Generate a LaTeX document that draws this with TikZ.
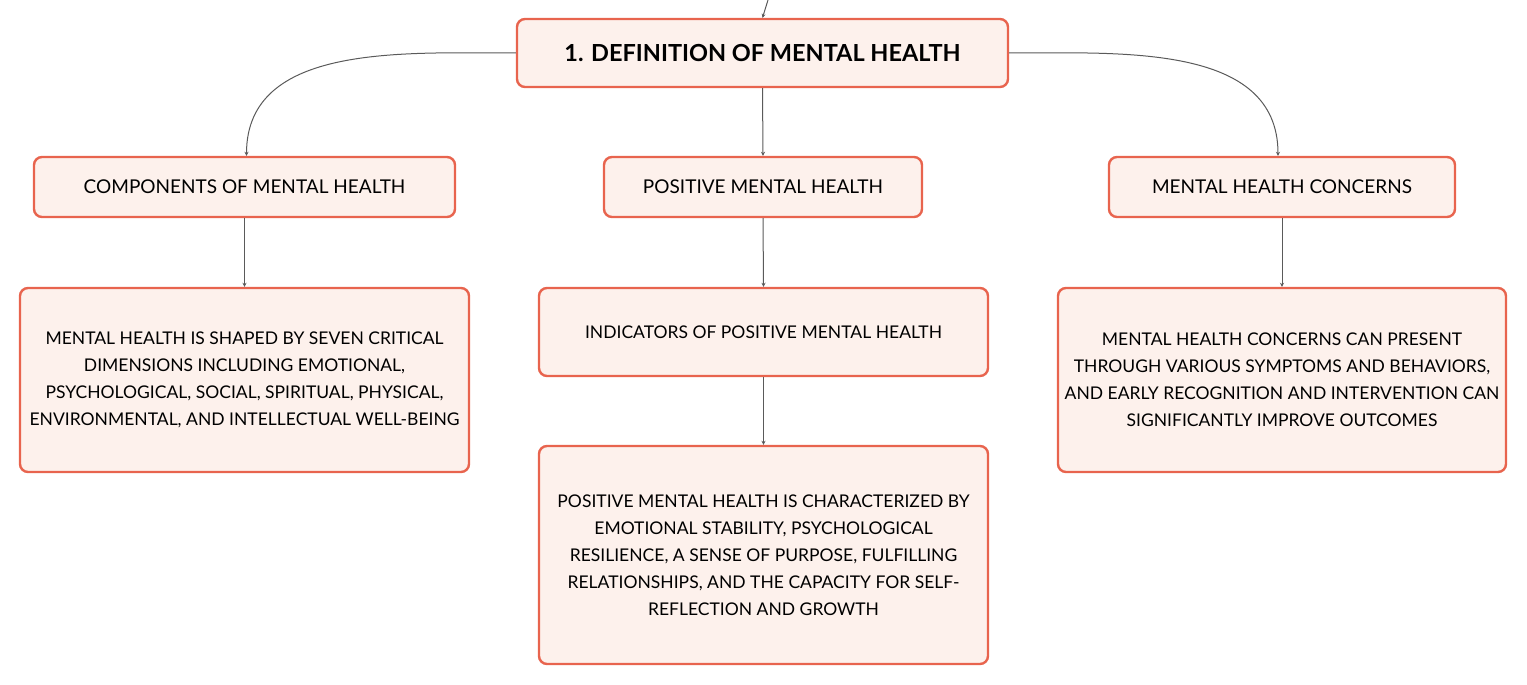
\documentclass[tikz,border=0pt]{standalone}
\usepackage{fontspec}
\setmainfont{Lato}
\usetikzlibrary{arrows.meta}
\definecolor{boxborder}{HTML}{E8644E}
\definecolor{boxfill}{HTML}{FDF1EC}
\definecolor{linkgray}{HTML}{5A5A5A}
\tikzset{
  box/.style={draw=boxborder, fill=boxfill, line width=2.4pt, rounded corners=8pt,
    align=center, inner sep=0pt, text=black},
  headbox/.style={box, font=\fontsize{19}{27}\selectfont},
  descbox/.style={box, font=\fontsize{17.5}{27}\selectfont},
  titlebox/.style={box, font=\fontsize{23.5}{27}\selectfont\bfseries},
  link/.style={draw=linkgray, line width=1pt, -{Stealth[length=4pt,width=4pt]}},
}
\begin{document}
\begin{tikzpicture}[x=1pt,y=-1pt]
\useasboundingbox (0,0) rectangle (1527,685);
\node[titlebox, minimum width=491pt, minimum height=68pt] (top) at (762.5,53) {1. DEFINITION OF MENTAL HEALTH};
\coordinate (in) at (768,0);
\node[headbox, minimum width=421pt, minimum height=60pt] (comp) at (244.5,187) {COMPONENTS OF MENTAL HEALTH};
\node[headbox, minimum width=318pt, minimum height=60pt] (pos) at (763,187) {POSITIVE MENTAL HEALTH};
\node[headbox, minimum width=346pt, minimum height=60pt] (conc) at (1282,187) {MENTAL HEALTH CONCERNS};
\node[descbox, minimum width=449pt, minimum height=184pt] (compd) at (244.5,380) {MENTAL HEALTH IS SHAPED BY SEVEN CRITICAL\\DIMENSIONS INCLUDING EMOTIONAL,\\PSYCHOLOGICAL, SOCIAL, SPIRITUAL, PHYSICAL,\\ENVIRONMENTAL, AND INTELLECTUAL WELL-BEING};
\node[descbox, minimum width=449pt, minimum height=88pt] (ind) at (763.5,332) {INDICATORS OF POSITIVE MENTAL HEALTH};
\node[descbox, minimum width=449pt, minimum height=218pt] (posd) at (763.5,555) {POSITIVE MENTAL HEALTH IS CHARACTERIZED BY\\EMOTIONAL STABILITY, PSYCHOLOGICAL\\RESILIENCE, A SENSE OF PURPOSE, FULFILLING\\RELATIONSHIPS, AND THE CAPACITY FOR SELF-\\REFLECTION AND GROWTH};
\node[descbox, minimum width=448pt, minimum height=184pt] (concd) at (1282,380) {MENTAL HEALTH CONCERNS CAN PRESENT\\THROUGH VARIOUS SYMPTOMS AND BEHAVIORS,\\AND EARLY RECOGNITION AND INTERVENTION CAN\\SIGNIFICANTLY IMPROVE OUTCOMES};
\draw[link] (in) -- (top.north);
\draw[link] (top.west) to[out=180,in=90] ([xshift=2pt]comp.north);
\draw[link] (top.south) -- (pos.north);
\draw[link] (top.east) to[out=0,in=90] ([xshift=-4pt]conc.north);
\draw[link] (comp.south) -- (compd.north);
\draw[link] (pos.south) -- (ind.north);
\draw[link] (ind.south) -- (posd.north);
\draw[link] (conc.south) -- (concd.north);
\end{tikzpicture}
\end{document}
